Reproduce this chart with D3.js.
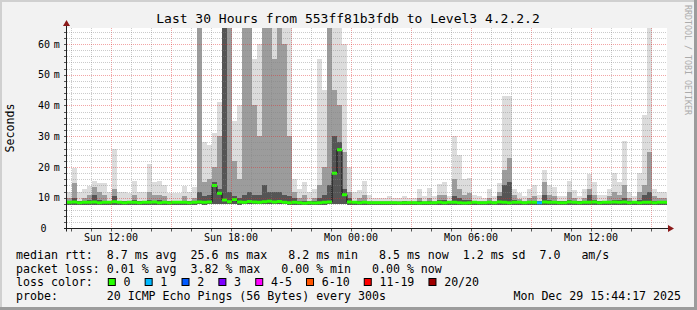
<!DOCTYPE html>
<html>
<head>
<meta charset="utf-8">
<script src="https://cdn.jsdelivr.net/npm/d3@7"></script>
<style>
  body { margin: 0; background: #f2f2f2; }
  svg { display: block; }
  text { font-family: "DejaVu Sans Mono", monospace; white-space: pre; }
</style>
</head>
<body>
<svg></svg>
<script>
// 15 minute slots, Sun 09:48 -> Mon 15:48
const slotStart = new Date(2025, 11, 28, 9, 48)
const slotEnd = new Date(2025, 11, 29, 15, 48)
const slotMinutes = 15

// median rtt per slot (ms)
const medianMs = [
  8.5, 8.6, 8.4, 8.5, 8.5, 8.6, 8.4, 8.5, 8.5, 8.7,
  8.5, 8.4, 8.5, 8.5, 8.4, 8.5, 8.5, 8.6, 8.4, 8.5,
  8.4, 8.5, 8.5, 8.5, 8.4, 8.5, 8.6, 8.5, 8.6, 14.0,
  11.5, 9.3, 8.7, 9.4, 8.6, 8.5, 8.8, 8.6, 8.5, 8.7,
  8.9, 8.6, 8.8, 8.5, 8.4, 8.5, 8.4, 8.2, 8.4, 8.3,
  8.4, 8.5, 8.6, 18.0, 25.6, 11.0, 8.6, 8.5, 8.4, 8.5,
  8.4, 8.4, 8.4, 8.4, 8.4, 8.4, 8.3, 8.4, 8.4, 8.4,
  8.3, 8.4, 8.4, 8.4, 8.5, 8.4, 8.5, 8.5, 8.4, 8.3,
  8.4, 8.5, 8.4, 8.4, 8.5, 8.4, 8.6, 8.5, 8.4, 8.5,
  8.5, 8.4, 8.5, 8.5, 8.4, 8.6, 8.5, 8.5, 8.4, 8.4,
  8.6, 8.5, 8.4, 8.5, 8.5, 8.6, 8.4, 8.5, 8.5, 8.6,
  8.5, 8.6, 8.4, 8.5, 8.4, 8.5, 8.5, 8.4, 8.5, 8.5
]

// lost pings per slot (of 20)
const lossCount = [
  0, 0, 0, 0, 0, 0, 0, 0, 0, 0, 0, 0, 0, 0, 0, 0, 0, 0, 0, 0,
  0, 0, 0, 0, 0, 0, 0, 0, 0, 0, 0, 0, 0, 0, 0, 0, 0, 0, 0, 0,
  0, 0, 0, 0, 0, 0, 0, 0, 0, 0, 0, 0, 0, 0, 0, 0, 0, 0, 0, 0,
  0, 0, 0, 0, 0, 0, 0, 0, 0, 0, 0, 0, 0, 0, 0, 0, 0, 0, 0, 0,
  0, 0, 0, 0, 0, 0, 0, 0, 0, 0, 0, 0, 0, 0, 1, 0, 0, 0, 0, 0,
  0, 0, 0, 0, 0, 0, 0, 0, 0, 0, 0, 0, 0, 0, 0, 0, 0, 0, 0, 0
]

// smoke: fastest ping, and upper edges of the light / medium / dark bands (ms)
const smokeMin = [
  7.8, 7.8, 7.8, 7.8, 7.8, 7.8, 7.8, 7.8, 7.8, 7.8,
  7.8, 7.8, 7.8, 7.8, 7.8, 7.8, 7.8, 7.8, 7.8, 7.8,
  7.8, 7.8, 7.8, 7.8, 7.8, 7.8, 7.9, 7.8, 7.9, 7.9,
  7.9, 8.0, 7.9, 7.9, 7.8, 7.9, 8.0, 7.9, 7.9, 8.0,
  7.9, 7.9, 7.9, 7.9, 7.8, 7.8, 7.8, 7.7, 7.8, 7.8,
  7.8, 7.8, 7.9, 8.0, 8.0, 7.9, 7.8, 7.8, 7.8, 7.8,
  7.8, 7.8, 7.8, 7.8, 7.8, 7.8, 7.7, 7.8, 7.8, 7.8,
  7.8, 7.8, 7.8, 7.8, 7.8, 7.8, 7.8, 7.8, 7.8, 7.8,
  7.8, 7.8, 7.8, 7.8, 7.8, 7.8, 7.8, 7.8, 7.8, 7.8,
  7.8, 7.8, 7.8, 7.8, 7.8, 7.8, 7.8, 7.8, 7.8, 7.8,
  7.8, 7.8, 7.8, 7.8, 7.8, 7.8, 7.8, 7.8, 7.8, 7.8,
  7.8, 7.8, 7.8, 7.8, 7.8, 7.8, 7.8, 7.8, 7.8, 7.8
]
const smokeMax = [
  12, 19.7, 12, 13, 13.7, 15.3, 14.8, 14.8, 12, 26,
  12, 12, 11.5, 15.6, 12, 12, 20.9, 15, 15.6, 14,
  11.5, 11.5, 11.5, 13.7, 12, 13.5, 70, 28, 27, 31,
  41, 70, 70, 35, 40, 70, 70, 55, 60, 70,
  70, 70, 70, 70, 70, 16, 13, 15, 12, 13,
  55, 45, 70, 70, 70, 60, 20, 12, 12.5, 15.5,
  11, 10, 10, 10, 10.5, 10, 10, 10.5, 10, 10,
  12.7, 10.5, 13.3, 10.5, 14.5, 15, 10.5, 30, 24, 16,
  16.3, 11, 10.5, 10, 12.7, 10.5, 14.8, 43, 43, 13,
  11.5, 10.5, 12.7, 14, 11, 19, 14, 13.5, 10.5, 10.5,
  15.4, 12.5, 10.5, 12.7, 17.6, 15, 11, 11, 13, 17.9,
  15, 28.4, 12, 10.5, 17.9, 37, 66, 13, 12, 12
]
const smokeMid = [
  10, 14.8, 9.1, 10, 11, 13.5, 12, 11, 9.1, 13,
  9.1, 9.1, 9.1, 11, 9.1, 9.1, 12, 11, 11, 10.5,
  9.1, 9.1, 9.1, 10.5, 9.1, 10, 70, 15, 16, 20,
  30, 70, 70, 22, 16, 70, 70, 40, 30, 70,
  70, 55, 70, 60, 30, 12, 10, 11, 9.1, 10,
  14, 20, 70, 45, 40, 25, 12, 9.1, 10, 11,
  9, 9, 9, 9, 9, 9, 9, 9.1, 9, 9,
  10, 9, 10, 9, 11, 11, 9, 16, 13, 11,
  11.5, 9.1, 9, 9, 10, 9, 12, 19, 23, 11,
  9.5, 9, 10, 10.5, 9.1, 15, 11, 10.5, 9.1, 9.1,
  12, 10, 9.1, 10, 13, 11, 9.1, 9.1, 10.5, 12,
  11, 14, 10, 9, 12, 14, 25, 10.5, 10, 10
]
const smokeDark = [
  9, 10, 8.8, 9, 9.3, 11, 9.3, 9, 8.8, 10.5,
  8.8, 8.8, 8.8, 9.3, 8.8, 8.8, 9.3, 9, 9.3, 9,
  8.8, 8.8, 8.8, 9, 8.8, 8.9, 12, 10.5, 11, 15,
  13, 70, 12, 10.5, 10, 11, 12, 11, 11, 14,
  12, 12, 12, 11, 10.5, 10, 8.9, 9, 8.8, 8.9,
  10, 11, 14, 30, 28, 13, 10, 8.8, 8.9, 9,
  8.7, 8.7, 8.7, 8.7, 8.7, 8.7, 8.7, 8.8, 8.7, 8.7,
  8.9, 8.7, 8.9, 8.7, 9.2, 9.2, 8.7, 10.5, 10, 9.2,
  9.3, 8.8, 8.7, 8.7, 8.9, 8.7, 10.5, 14, 15, 9.3,
  8.9, 8.7, 8.9, 9.1, 8.9, 11, 9.3, 9.1, 8.8, 8.8,
  9.3, 8.9, 8.8, 8.9, 11, 9.3, 8.8, 8.8, 9.1, 9.3,
  9.3, 10, 8.9, 8.7, 9.3, 11, 12, 9.1, 8.9, 8.9
]

const yTicks = [0, 10, 20, 30, 40, 50, 60]
const lossLabels = ["0", "1", "2", "3", "4-5", "6-10", "11-19", "20/20"]
const lossColors = ["#26ff00", "#00b8ff", "#0059ff", "#7e00ff", "#ff00ff", "#ff5500", "#ff0000", "#a00000"]

const title = "Last 30 Hours from 553ff81b3fdb to Level3 4.2.2.2"
const legendRows = [
  "median rtt:  8.7 ms avg  25.6 ms max   8.2 ms min   8.5 ms now  1.2 ms sd  7.0   am/s",
  "packet loss: 0.01 % avg  3.82 % max   0.00 % min   0.00 % now"
]
const probeText = "probe:       20 ICMP Echo Pings (56 Bytes) every 300s"
const stampText = "Mon Dec 29 15:44:17 2025"

const W = 697, H = 310
const plotL = 67, plotR = 667, plotT = 28, plotB = 228.5

var svg = d3.select("svg").attr("width", W).attr("height", H)

// background and 3d frame
svg.append("rect").attr("width", W).attr("height", H).attr("fill", "#f2f2f2")
svg.append("path").attr("d", `M0,0H${W}V2H2V${H}H0Z`).attr("fill", "#d0d0d0")
svg.append("path").attr("d", `M${W},0V${H}H0V${H-3}H${W-3}V0Z`).attr("fill", "#9c9c9c")

var x = d3.scaleTime().domain([slotStart, slotEnd]).range([plotL, plotR])
var y = d3.scaleLinear().domain([0, 65.2]).range([plotB, plotT])

svg.append("rect").attr("x", plotL).attr("y", plotT)
  .attr("width", plotR - plotL).attr("height", plotB - plotT).attr("fill", "#fff")

svg.append("clipPath").attr("id", "plotclip").append("rect")
  .attr("x", plotL).attr("y", plotT).attr("width", plotR - plotL).attr("height", plotB - plotT)

var plot = svg.append("g").attr("clip-path", "url(#plotclip)")

let slotTime = i => d3.timeMinute.offset(slotStart, i * slotMinutes)

// smoke bands
let bands = [
  { vals: smokeMax, color: "#dcdcdc" },
  { vals: smokeMid, color: "#9c9c9c" },
  { vals: smokeDark, color: "#555" }
]
bands.forEach(band => {
  plot.append("g").selectAll("rect")
    .data(band.vals)
    .join("rect")
    .attr("x", (d, i) => x(slotTime(i)))
    .attr("width", (d, i) => x(slotTime(i + 1)) - x(slotTime(i)))
    .attr("y", d => y(d))
    .attr("height", (d, i) => Math.max(0, y(smokeMin[i]) - y(d)))
    .attr("fill", band.color)
    .attr("shape-rendering", "crispEdges")
})

// grid, drawn on top of the smoke like rrdtool does
let hours = d3.timeHour.range(d3.timeHour.ceil(slotStart), slotEnd)
let minorV = hours.filter(h => h.getHours() % 3 !== 0)
let majorV = hours.filter(h => h.getHours() % 3 === 0)
let minorH = d3.range(2, 65, 2).filter(v => v % 10 !== 0)
let majorH = yTicks.filter(v => v > 0)

let px = v => Math.round(v) + 0.5
let gridMinor = "rgba(130,130,130,0.42)", gridMajor = "rgba(225,40,40,0.42)"

let grid = svg.append("g").attr("stroke-dasharray", "1,1").attr("stroke-width", 1)
grid.selectAll(".vmin").data(minorV).join("line").attr("class", "vmin")
  .attr("x1", d => px(x(d))).attr("x2", d => px(x(d))).attr("y1", plotT).attr("y2", plotB)
  .attr("stroke", gridMinor)
grid.selectAll(".vmaj").data(majorV).join("line").attr("class", "vmaj")
  .attr("x1", d => px(x(d))).attr("x2", d => px(x(d))).attr("y1", plotT).attr("y2", plotB)
  .attr("stroke", gridMajor)
grid.selectAll(".hmin").data(minorH).join("line").attr("class", "hmin")
  .attr("y1", d => px(y(d))).attr("y2", d => px(y(d))).attr("x1", plotL).attr("x2", plotR)
  .attr("stroke", gridMinor)
grid.selectAll(".hmaj").data(majorH).join("line").attr("class", "hmaj")
  .attr("y1", d => px(y(d))).attr("y2", d => px(y(d))).attr("x1", plotL).attr("x2", plotR)
  .attr("stroke", gridMajor)

// little ticks outside the axes
let ticks = svg.append("g").attr("stroke", "#555").attr("stroke-width", 1)
ticks.selectAll(".tx").data(hours).join("line").attr("class", "tx")
  .attr("x1", d => px(x(d))).attr("x2", d => px(x(d))).attr("y1", plotB).attr("y2", plotB + 3)
ticks.selectAll(".ty").data(d3.range(2, 65, 2)).join("line").attr("class", "ty")
  .attr("y1", d => px(y(d))).attr("y2", d => px(y(d))).attr("x1", plotL - 3).attr("x2", plotL)

// median line, coloured by loss
let lossIndex = n => n <= 3 ? n : n <= 5 ? 4 : n <= 10 ? 5 : n < 20 ? 6 : 7
plot.append("g").selectAll("line")
  .data(medianMs.slice(1))
  .join("line")
  .attr("x1", (d, i) => x(slotTime(i + 1)))
  .attr("x2", (d, i) => x(slotTime(i + 1)))
  .attr("y1", (d, i) => y(medianMs[i]))
  .attr("y2", d => y(d))
  .attr("stroke", "#111").attr("stroke-width", 1)
plot.append("g").selectAll("line")
  .data(medianMs)
  .join("line")
  .attr("x1", (d, i) => x(slotTime(i)))
  .attr("x2", (d, i) => x(slotTime(i + 1)))
  .attr("y1", d => y(d))
  .attr("y2", d => y(d))
  .attr("stroke", (d, i) => lossColors[lossIndex(lossCount[i])])
  .attr("stroke-width", 3)

// axes and arrows
svg.append("line").attr("x1", plotL - 3).attr("x2", plotR + 2).attr("y1", plotB).attr("y2", plotB)
  .attr("stroke", "#202020")
svg.append("line").attr("x1", plotL - 0.5).attr("x2", plotL - 0.5).attr("y1", plotB + 3).attr("y2", plotT - 3)
  .attr("stroke", "#202020")
svg.append("path").attr("d", `M${plotR + 1},${plotB - 3.5}L${plotR + 7},${plotB}L${plotR + 1},${plotB + 3.5}Z`)
  .attr("fill", "#8b1a1a")
svg.append("path").attr("d", `M${plotL - 4},${plotT - 2}L${plotL - 0.5},${plotT - 8}L${plotL + 3},${plotT - 2}Z`)
  .attr("fill", "#8b1a1a")

// y tick labels
let yl = svg.append("g").attr("font-size", 10).attr("fill", "#000")
yl.selectAll(".num").data(yTicks).join("text").attr("class", "num")
  .attr("x", d => d === 0 ? 46.5 : 50)
  .attr("y", d => y(d)).attr("dy", "0.36em")
  .attr("text-anchor", "end")
  .text(d => d)
yl.selectAll(".unit").data(majorH).join("text").attr("class", "unit")
  .attr("x", 53.8).attr("y", d => y(d)).attr("dy", "0.36em")
  .text("m")

// x labels every 6 hours
let xLabels = hours.filter(h => h.getHours() % 6 === 0)
svg.append("g").attr("font-size", 10).selectAll("text")
  .data(xLabels)
  .join("text")
  .attr("x", d => x(d)).attr("y", 241)
  .attr("text-anchor", "middle")
  .text(d => d3.timeFormat("%a %H:%M")(d))

// title, unit label, watermark
svg.append("text").attr("x", 348).attr("y", 23).attr("text-anchor", "middle")
  .attr("font-size", 13).text(title)
svg.append("text").attr("transform", "translate(14,128) rotate(-90)")
  .attr("text-anchor", "middle").attr("font-size", 11.6).text("Seconds")
svg.append("text").attr("transform", "translate(685,5) rotate(90)")
  .attr("font-size", 8.6).attr("fill", "#ababab")
  .attr("textLength", 110).attr("lengthAdjust", "spacingAndGlyphs")
  .text("RRDTOOL / TOBI OETIKER")

// legend
let legend = svg.append("g").attr("font-size", 11.6).attr("fill", "#000")
legend.selectAll(".row").data(legendRows).join("text").attr("class", "row")
  .attr("x", 16).attr("y", (d, i) => 259 + i * 13.6)
  .attr("xml:space", "preserve")
  .text(d => d)
legend.append("text").attr("x", 16).attr("y", 286).text("loss color:")
legend.append("text").attr("x", 16).attr("y", 299.6).attr("xml:space", "preserve").text(probeText)
legend.append("text").attr("x", 681).attr("y", 299.6).attr("text-anchor", "end").text(stampText)

let charW = 6.96
let cursor = 107.8
lossLabels.forEach((lab, i) => {
  legend.append("rect")
    .attr("x", cursor + 0.5).attr("y", 278.5).attr("width", 7).attr("height", 7)
    .attr("fill", lossColors[i]).attr("stroke", "#000").attr("stroke-width", 1)
  let lx = cursor + 15.7
  legend.append("text").attr("x", lx).attr("y", 286).text(lab)
  cursor = lx + lab.length * charW + 14.2
})
</script>
</body>
</html>
